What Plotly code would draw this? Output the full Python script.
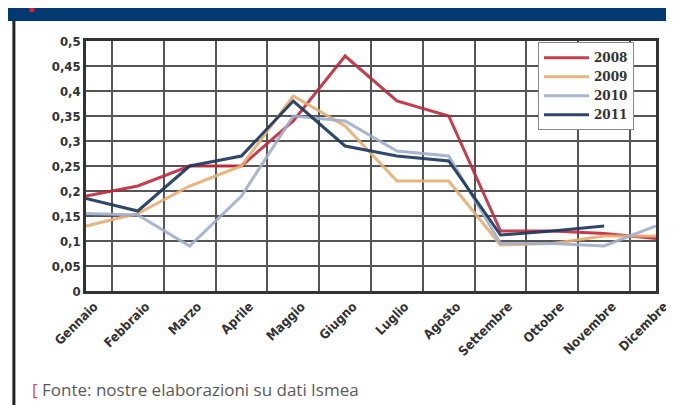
import plotly.graph_objects as go

months = ["Gennaio", "Febbraio", "Marzo", "Aprile", "Maggio", "Giugno",
          "Luglio", "Agosto", "Settembre", "Ottobre", "Novembre", "Dicembre"]
y2008 = [0.19, 0.21, 0.25, 0.25, 0.34, 0.47, 0.38, 0.35, 0.12, 0.12, 0.115, 0.105]
y2009 = [0.13, 0.155, 0.21, 0.25, 0.39, 0.33, 0.22, 0.22, 0.092, 0.095, 0.11, 0.11]
y2010 = [0.155, 0.152, 0.09, 0.19, 0.35, 0.34, 0.28, 0.27, 0.095, 0.095, 0.09, 0.13]
y2011 = [0.185, 0.16, 0.25, 0.27, 0.38, 0.29, 0.27, 0.26, 0.112, 0.12, 0.13, None]
series = [("2008", y2008, "rgba(192,40,58,0.9)"),
          ("2009", y2009, "rgba(232,172,112,0.9)"),
          ("2010", y2010, "rgba(160,174,204,0.9)"),
          ("2011", y2011, "rgba(28,56,92,0.92)")]
yticks = [0, 0.05, 0.1, 0.15, 0.2, 0.25, 0.3, 0.35, 0.4, 0.45, 0.5]

fig = go.Figure()
for name, ys, col in series:
    fig.add_trace(go.Scatter(x=months, y=ys, name=name, mode="lines",
                             line=dict(color=col, width=3)))

PW, PH, MT = 585, 250, 33

fig.update_layout(
    width=674, height=405,
    margin=dict(l=78, r=11, t=MT, b=122),
    paper_bgcolor="white", plot_bgcolor="white",
    separators=",.",
    font=dict(family="DejaVu Sans", color="#333333"),
    showlegend=True,
    legend=dict(x=0.793, y=0.995, xanchor="left", yanchor="top",
                bgcolor="white", bordercolor="#888888", borderwidth=1,
                font=dict(size=12, color="#333333", family="DejaVu Serif", weight="bold"),
                tracegroupgap=0, itemwidth=45),
    xaxis=dict(type="category", tickson="boundaries", showgrid=True,
               gridcolor="#555555", gridwidth=1.5, ticks="",
               tickangle=-45, showline=True, linecolor="#333333", linewidth=2.5,
               mirror=True, ticklabelshift=8,
               tickfont=dict(size=13, family="DejaVu Sans Condensed", color="#333333", weight="bold")),
    yaxis=dict(range=[0, 0.5], tickvals=yticks, showgrid=True,
               gridcolor="#555555", gridwidth=1.5, showline=True,
               linecolor="#333333", linewidth=2.5, mirror=True, zeroline=False,
               ticks="", ticklen=0,
               tickfont=dict(size=13, family="DejaVu Sans Condensed", color="#333333", weight="bold")),
)

# top banner and left border
fig.add_shape(type="rect", xref="paper", yref="paper", x0=-0.2, x1=1.1,
              y0=(PH + MT - 13) / PH, y1=(PH + MT + 5) / PH,
              fillcolor="#003A70", line=dict(width=0), layer="above")
fig.add_shape(type="rect", xref="paper", yref="paper", x0=-58 / PW, x1=-53 / PW,
              y0=(PH + MT - 4) / PH, y1=(PH + MT + 5) / PH,
              fillcolor="#E0202A", line=dict(width=0), layer="above")
fig.add_shape(type="line", xref="paper", yref="paper", x0=-74 / PW, x1=-74 / PW,
              y0=-122 / PH, y1=(PH + MT - 13) / PH,
              line=dict(color="#222222", width=3))

fig.add_annotation(xref="paper", yref="paper", x=-57 / PW, y=-(381 - 283) / PH,
                   xanchor="left", yanchor="middle", showarrow=False,
                   text="<span style='color:#D05060'>[</span> Fonte: nostre elaborazioni su dati Ismea",
                   font=dict(size=17, color="#5a5a5a", family="Open Sans"))

fig.write_html("out.html")
